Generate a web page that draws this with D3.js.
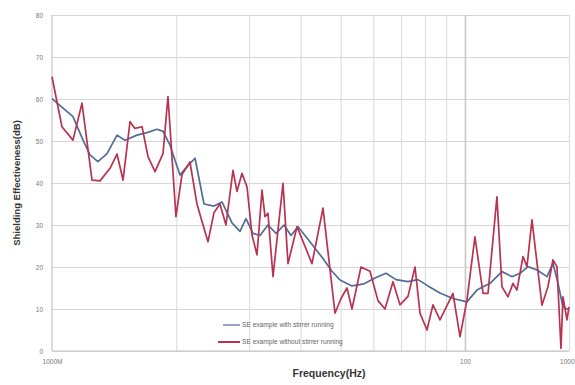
<!DOCTYPE html>
<html>
<head>
<meta charset="utf-8">
<script src="https://cdn.jsdelivr.net/npm/d3@7"></script>
<style>
  html, body { margin: 0; padding: 0; background: #fff; }
  svg { display: block; }
</style>
</head>
<body>
<svg id="chart" width="575" height="385"></svg>
<script>
// Frequency points and shielding effectiveness (dB), stirrer running
const freqWith = [10.00, 11.24, 11.89, 12.36, 12.92, 13.59, 14.37, 15.02, 16.06, 16.98,
  17.96, 18.57, 19.31, 20.41, 21.23, 22.20, 23.34, 24.68, 25.80, 27.28,
  28.52, 29.49, 30.67, 31.89, 33.34, 34.87, 36.46, 37.91, 39.41, 42.14,
  45.31, 47.64, 49.81, 53.26, 56.95, 60.89, 64.38, 68.07, 72.78, 76.95,
  81.37, 86.99, 93.53, 101.1, 106.9, 110.6, 115.0, 122.9, 130.0, 135.9,
  142.1, 149.4, 158.0, 163.3, 168.0, 172.7, 178.6];
const seWith = [60.1, 55.8, 50.2, 46.7, 45.1, 47.0, 51.4, 50.2, 51.4, 52.0,
  52.8, 52.3, 49.0, 41.9, 43.9, 45.9, 35.0, 34.5, 35.5, 30.5,
  28.5, 31.5, 28.0, 27.5, 30.0, 28.0, 30.0, 27.5, 29.6, 26.0,
  22.0, 19.0, 16.9, 15.5, 16.0, 17.5, 18.5, 17.0, 16.5, 17.0,
  15.5, 13.8, 12.5, 11.7, 14.5, 15.3, 16.1, 18.9, 17.7, 18.5,
  20.1, 19.3, 17.7, 20.9, 16.1, 10.5, 9.8];

// Frequency points and shielding effectiveness (dB), stirrer stopped
const freqWithout = [10.00, 10.57, 11.24, 11.82, 12.50, 13.07, 13.82, 14.37, 14.86, 15.45,
  15.88, 16.52, 17.08, 17.76, 18.57, 19.09, 19.96, 20.64, 21.58, 22.44,
  23.21, 23.86, 24.68, 25.51, 26.38, 27.43, 28.05, 28.84, 29.66, 30.50,
  31.36, 32.25, 32.79, 33.34, 34.29, 36.25, 37.28, 39.20, 42.61, 45.31,
  48.45, 50.09, 51.80, 53.26, 56.00, 58.88, 61.57, 64.02, 66.94, 69.60,
  72.78, 75.68, 77.82, 80.91, 83.67, 86.99, 93.53, 97.26, 101.1, 105.7,
  110.6, 113.7, 119.5, 122.9, 127.1, 130.7, 133.6, 138.2, 141.3, 145.3,
  153.6, 158.8, 163.3, 167.0, 170.8, 172.7, 176.6, 178.6];
const seWithout = [65.3, 53.4, 50.2, 59.0, 40.7, 40.5, 43.5, 46.9, 40.7, 54.6,
  53.0, 53.4, 46.3, 42.7, 47.0, 60.6, 32.0, 42.0, 45.0, 35.0,
  30.0, 26.0, 33.0, 35.0, 30.0, 43.0, 38.0, 42.3, 39.1, 27.6,
  22.9, 38.3, 32.0, 32.8, 17.7, 39.9, 20.8, 29.6, 20.8, 34.0,
  9.0, 12.5, 15.0, 10.0, 20.0, 19.0, 12.0, 10.0, 16.5, 11.0,
  13.0, 20.0, 9.0, 5.0, 11.0, 7.4, 13.7, 3.4, 12.1, 27.2,
  13.7, 13.7, 36.7, 15.3, 12.9, 16.1, 14.5, 22.5, 20.1, 31.2,
  10.9, 15.3, 21.7, 20.1, 0.6, 12.9, 7.4, 10.5];

// Axis ticks
const yTicks = [0, 10, 20, 30, 40, 50, 60, 70, 80];
const xGridTicks = [20, 30, 40, 50, 60, 70, 80, 90, 100];
const xLabelTicks = [10, 100, 178.6];
const xLabelText = ["1000M", "100", "1000"];

const seriesNames = ["SE example with stirrer running", "SE example without stirrer running"];
const colorWith = "#4f6d98";
const colorWithout = "#b8334f";

const svg = d3.select("#chart");
const margin = { left: 52, right: 6, top: 15, bottom: 34 };
const W = 575, H = 385;
const font = "Liberation Sans, Arial, sans-serif";

const x = d3.scaleLog().domain([10, 178.6]).range([margin.left, W - margin.right]);
const y = d3.scaleLinear().domain([0, 80]).range([H - margin.bottom, margin.top]);

const plot = svg.append("g");

// Horizontal grid
const yAxisGrid = d3.axisLeft(y).tickValues(yTicks).tickSize(-(x.range()[1] - x.range()[0])).tickFormat("");
plot.append("g")
  .attr("transform", `translate(${margin.left},0)`)
  .call(yAxisGrid)
  .call(g => g.select(".domain").remove())
  .call(g => g.selectAll("line").attr("stroke", "#d6d6d6").attr("stroke-width", 1.2));

// Vertical grid (log)
const xAxisGrid = d3.axisBottom(x).tickValues(xGridTicks.concat([178.6])).tickSize(-(y.range()[0] - y.range()[1])).tickFormat("");
plot.append("g")
  .attr("transform", `translate(0,${y(0)})`)
  .call(xAxisGrid)
  .call(g => g.select(".domain").remove())
  .call(g => g.selectAll("line")
    .attr("stroke", d => d === 100 ? "#c8c8c8" : "#dcdcdc")
    .attr("stroke-width", d => d === 100 ? 1.6 : 1.1));

// Axis lines
plot.append("line")
  .attr("x1", x(10)).attr("x2", x(10)).attr("y1", y(0)).attr("y2", y(80))
  .attr("stroke", "#c4c4c4").attr("stroke-width", 1.2);
plot.append("line")
  .attr("x1", x(10)).attr("x2", x(178.6)).attr("y1", y(0)).attr("y2", y(0))
  .attr("stroke", "#c4c4c4").attr("stroke-width", 1.2);

// Y tick labels
const yAxis = d3.axisLeft(y).tickValues(yTicks).tickSize(0).tickPadding(9);
svg.append("g")
  .attr("transform", `translate(${margin.left},0)`)
  .call(yAxis)
  .call(g => g.select(".domain").remove())
  .call(g => g.selectAll("text")
    .attr("font-family", font)
    .attr("font-size", 6.5).attr("fill", "#777"));

// X tick labels; the last one is kept inside the right edge
const xAxis = d3.axisBottom(x).tickValues(xLabelTicks).tickSize(0).tickPadding(8)
  .tickFormat((d, i) => xLabelText[i]);
svg.append("g")
  .attr("transform", `translate(0,${y(0)})`)
  .call(xAxis)
  .call(g => g.select(".domain").remove())
  .call(g => g.selectAll("text")
    .attr("font-family", font)
    .attr("font-size", 6.5).attr("fill", "#777")
    .attr("text-anchor", (d, i) => i === xLabelTicks.length - 1 ? "end" : "middle")
    .attr("dx", (d, i) => i === xLabelTicks.length - 1 ? W - 1 - x(d) : 0));

// Series lines
const line = d3.line().x(d => x(d[0])).y(d => y(d[1]));
const dataWith = freqWith.map((f, i) => [f, seWith[i]]);
const dataWithout = freqWithout.map((f, i) => [f, seWithout[i]]);

svg.append("path").datum(dataWith)
  .attr("d", line).attr("fill", "none")
  .attr("stroke", colorWith).attr("stroke-width", 1.7).attr("stroke-linejoin", "round");
svg.append("path").datum(dataWithout)
  .attr("d", line).attr("fill", "none")
  .attr("stroke", colorWithout).attr("stroke-width", 1.7).attr("stroke-linejoin", "round");

// Legend
const legend = svg.append("g").attr("font-family", font);
const legendRows = [
  { name: seriesNames[0], color: colorWith, x0: 223, y: 325, w: 1.2 },
  { name: seriesNames[1], color: colorWithout, x0: 218, y: 342, w: 2 }
];
legendRows.forEach(r => {
  legend.append("line").attr("x1", r.x0).attr("x2", 240).attr("y1", r.y).attr("y2", r.y)
    .attr("stroke", r.color).attr("stroke-width", r.w);
  legend.append("text").attr("x", 242).attr("y", r.y + 2.2)
    .attr("font-size", 6.6).attr("fill", "#666").text(r.name);
});

// Axis titles
svg.append("text")
  .attr("x", 329).attr("y", 377).attr("text-anchor", "middle")
  .attr("font-family", font)
  .attr("font-size", 10.5).attr("font-weight", "bold").attr("fill", "#333")
  .text("Frequency(Hz)");
svg.append("text")
  .attr("transform", `translate(20,${(y(0) + y(80)) / 2}) rotate(-90)`)
  .attr("text-anchor", "middle")
  .attr("font-family", font)
  .attr("font-size", 9.5).attr("font-weight", "bold").attr("fill", "#333")
  .text("Shielding Effectiveness(dB)");
</script>
</body>
</html>
